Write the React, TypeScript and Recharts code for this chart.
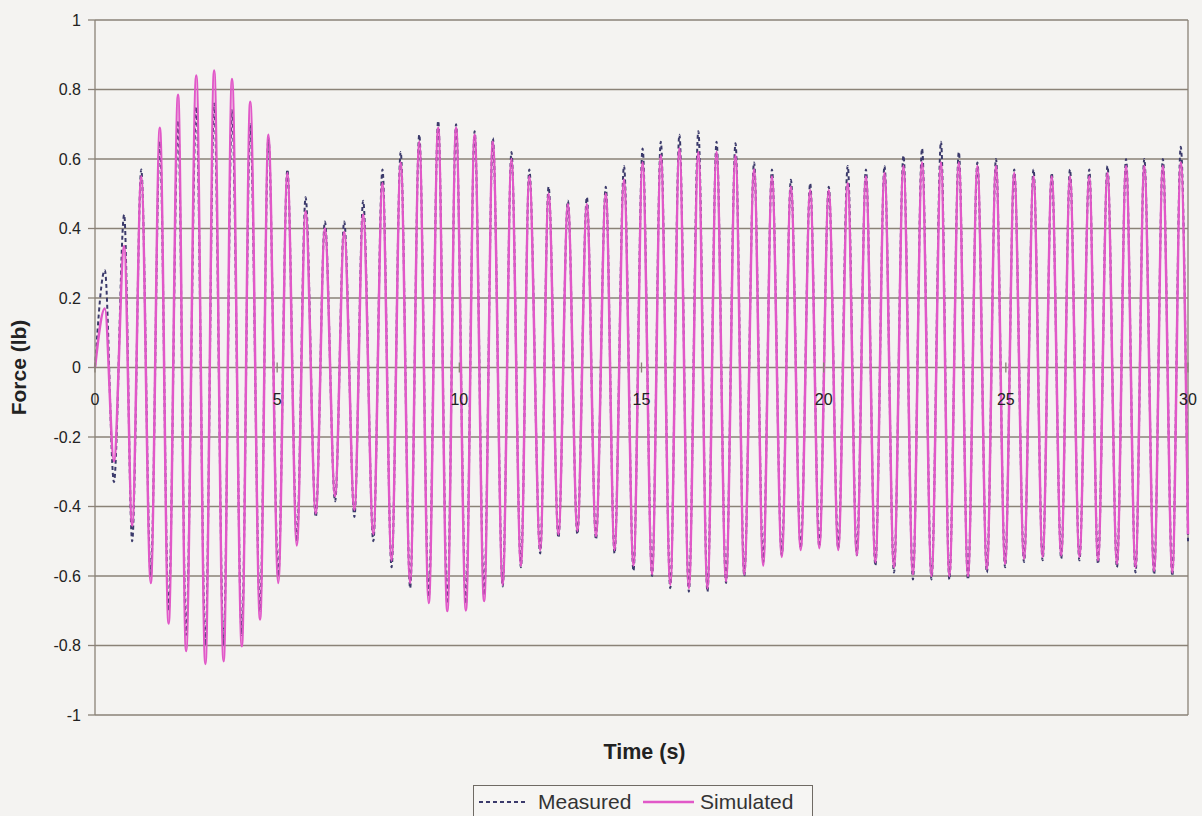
import React from "react";
import {
  LineChart,
  Line,
  XAxis,
  YAxis,
  CartesianGrid,
  ReferenceLine,
  Label,
} from "recharts";

// Force response: measured vs simulated, values read at each peak / trough

const peakTimes = [
  0.27, 0.8, 1.27, 1.78, 2.28, 2.78, 3.27, 3.76, 4.26, 4.76, 5.28, 5.78, 6.31,
  6.84, 7.36, 7.89, 8.39, 8.9, 9.42, 9.91, 10.42, 10.92, 11.43, 11.92, 12.45,
  12.98, 13.5, 14.02, 14.52, 15.03, 15.53, 16.04, 16.56, 17.06, 17.58, 18.09,
  18.58, 19.1, 19.63, 20.14, 20.66, 21.16, 21.67, 22.19, 22.7, 23.22, 23.71,
  24.22, 24.73, 25.23, 25.76, 26.26, 26.76, 27.29, 27.79, 28.3, 28.8, 29.31,
  29.8,
];

const troughTimes = [
  0.52, 1.02, 1.53, 2.02, 2.5, 3.03, 3.53, 4.03, 4.53, 5.03, 5.54, 6.06, 6.59,
  7.12, 7.64, 8.14, 8.65, 9.16, 9.67, 10.18, 10.68, 11.19, 11.69, 12.22, 12.72,
  13.24, 13.75, 14.26, 14.78, 15.29, 15.79, 16.3, 16.81, 17.32, 17.82, 18.34,
  18.85, 19.37, 19.88, 20.4, 20.91, 21.42, 21.93, 22.45, 22.96, 23.45, 23.96,
  24.48, 24.98, 25.5, 26.01, 26.52, 27.02, 27.53, 28.05, 28.56, 29.07, 29.57,
];

const measuredPeaks = [
  0.28, 0.44, 0.57, 0.65, 0.71, 0.75, 0.76, 0.74, 0.7, 0.66, 0.57, 0.49, 0.42,
  0.42, 0.48, 0.57, 0.62, 0.67, 0.71, 0.7, 0.68, 0.66, 0.62, 0.57, 0.52, 0.48,
  0.49, 0.52, 0.58, 0.63, 0.65, 0.67, 0.68, 0.65, 0.645, 0.59, 0.57, 0.54, 0.53,
  0.52, 0.58, 0.57, 0.58, 0.61, 0.63, 0.65, 0.62, 0.59, 0.6, 0.57, 0.57, 0.56,
  0.57, 0.57, 0.58, 0.6, 0.6, 0.6, 0.635,
];

const measuredTroughs = [
  -0.33, -0.5, -0.6, -0.7, -0.77, -0.8, -0.8, -0.77, -0.7, -0.6, -0.5, -0.43,
  -0.385, -0.43, -0.5, -0.575, -0.635, -0.66, -0.68, -0.68, -0.655, -0.63,
  -0.575, -0.535, -0.49, -0.48, -0.495, -0.535, -0.585, -0.6, -0.635, -0.645,
  -0.645, -0.62, -0.6, -0.56, -0.54, -0.52, -0.515, -0.52, -0.54, -0.57, -0.59,
  -0.61, -0.61, -0.61, -0.61, -0.59, -0.575, -0.56, -0.555, -0.55, -0.555,
  -0.565, -0.575, -0.59, -0.595, -0.6,
];

const simulatedPeaks = [
  0.17, 0.35, 0.55, 0.69, 0.785, 0.84, 0.855, 0.83, 0.765, 0.67, 0.56, 0.45,
  0.4, 0.39, 0.44, 0.53, 0.59, 0.65, 0.69, 0.69, 0.67, 0.65, 0.6, 0.55, 0.5,
  0.47, 0.47, 0.5, 0.54, 0.59, 0.61, 0.63, 0.62, 0.62, 0.61, 0.57, 0.55, 0.52,
  0.51, 0.51, 0.53, 0.55, 0.56, 0.58, 0.59, 0.59, 0.59, 0.58, 0.58, 0.56, 0.55,
  0.55, 0.55, 0.55, 0.56, 0.58, 0.58, 0.58, 0.59,
];

const simulatedTroughs = [
  -0.27, -0.455, -0.62, -0.737, -0.816, -0.853, -0.845, -0.802, -0.725, -0.62,
  -0.512, -0.42, -0.37, -0.41, -0.48, -0.555, -0.62, -0.678, -0.701, -0.699,
  -0.672, -0.625, -0.57, -0.525, -0.48, -0.47, -0.485, -0.525, -0.57, -0.595,
  -0.625, -0.635, -0.635, -0.615, -0.595, -0.57, -0.545, -0.525, -0.52, -0.525,
  -0.54, -0.56, -0.575, -0.595, -0.6, -0.6, -0.6, -0.58, -0.565, -0.55, -0.545,
  -0.54, -0.545, -0.555, -0.565, -0.575, -0.585, -0.59,
];

const startPoint = { t: 0, measured: 0, simulated: 0 };
const endPoint = { t: 30, measured: -0.5, simulated: -0.48 };

const xTicks = [0, 5, 10, 15, 20, 25, 30];
const yTicks = [1, 0.8, 0.6, 0.4, 0.2, 0, -0.2, -0.4, -0.6, -0.8, -1];

// interleave peaks and troughs into one table for the chart
const data: { t: number; measured: number; simulated: number }[] = [startPoint];
peakTimes.forEach((t, i) => {
  data.push({ t, measured: measuredPeaks[i], simulated: simulatedPeaks[i] });
  if (i < troughTimes.length) {
    data.push({
      t: troughTimes[i],
      measured: measuredTroughs[i],
      simulated: simulatedTroughs[i],
    });
  }
});
data.push(endPoint);

const W = 1202;
const H = 816;
const PLOT_TOP = 20;
const PLOT_H = 695;
const GRID = "#8a8277";
const MEASURED = "#3b3a6b";
const SIMULATED = "#e158c8";
const FONT = "Arial, 'Liberation Sans', Helvetica, sans-serif";

// x labels sit under the zero line, like Excel's axis crossing at 0
const XTick = (props: any) => {
  const { x, y, payload } = props;
  const zeroY = y - PLOT_H / 2;
  return (
    <g>
      <line x1={x} x2={x} y1={zeroY - 5} y2={zeroY + 5} stroke={GRID} strokeWidth={1.3} />
      <text
        x={x}
        y={zeroY + 37}
        textAnchor="middle"
        fontSize={16}
        fontFamily={FONT}
        fill="#222"
      >
        {payload.value}
      </text>
    </g>
  );
};

export default function App() {
  return (
    <div
      style={{
        position: "absolute",
        left: 0,
        top: 0,
        width: W,
        height: H,
        overflow: "hidden",
        background: "#f4f3f1",
        fontFamily: FONT,
      }}
    >
      <LineChart
        width={W}
        height={H}
        data={data}
        margin={{ top: PLOT_TOP, right: 14, bottom: 0, left: 0 }}
      >
        <CartesianGrid vertical={false} stroke={GRID} strokeWidth={1.3} />
        <XAxis
          dataKey="t"
          type="number"
          domain={[0, 30]}
          ticks={xTicks}
          height={101}
          axisLine={false}
          tickLine={false}
          tickSize={0}
          tickMargin={0}
          tick={<XTick />}
          interval={0}
        >
          <Label
            content={(p: any) => (
              <text
                x={p.viewBox.x + p.viewBox.width / 2 + 3}
                y={p.viewBox.y + 44}
                textAnchor="middle"
                fontSize={21.5}
                fontWeight="bold"
                fontFamily={FONT}
                fill="#222"
              >
                Time (s)
              </text>
            )}
          />
        </XAxis>
        <YAxis
          type="number"
          domain={[-1, 1]}
          ticks={yTicks}
          width={95}
          interval={0}
          axisLine={{ stroke: GRID, strokeWidth: 1.3 }}
          tickLine={{ stroke: GRID, strokeWidth: 1.3 }}
          tickSize={7}
          tickMargin={7}
          tick={{ fontSize: 16, fill: "#222", fontFamily: FONT }}
        >
          <Label
            content={(p: any) => {
              const cx = 18;
              const cy = p.viewBox.y + p.viewBox.height / 2;
              return (
                <text
                  x={cx}
                  y={cy}
                  transform={`rotate(-90, ${cx}, ${cy})`}
                  textAnchor="middle"
                  dominantBaseline="central"
                  fontSize={21}
                  fontWeight="bold"
                  fontFamily={FONT}
                  fill="#222"
                >
                  Force (lb)
                </text>
              );
            }}
          />
        </YAxis>
        <ReferenceLine x={30} stroke={GRID} strokeWidth={1.3} />
        <Line
          type="monotone"
          dataKey="measured"
          stroke={MEASURED}
          strokeWidth={2}
          strokeDasharray="4 3"
          dot={false}
          isAnimationActive={false}
        />
        <Line
          type="monotone"
          dataKey="simulated"
          stroke={SIMULATED}
          strokeWidth={2.5}
          dot={false}
          isAnimationActive={false}
        />
      </LineChart>

      <div
        style={{
          position: "absolute",
          left: 473,
          top: 785,
          width: 340,
          height: 40,
          boxSizing: "border-box",
          border: "1.5px solid #6f6a64",
          background: "#f6f5f3",
          fontSize: 21,
          color: "#333",
        }}
      >
        <svg width={52} height={20} style={{ position: "absolute", left: 4, top: 6 }}>
          <line x1={1} x2={50} y1={10} y2={10} stroke={MEASURED} strokeWidth={2} strokeDasharray="4 3" />
        </svg>
        <span style={{ position: "absolute", left: 64, top: 3, lineHeight: "26px" }}>Measured</span>
        <svg width={54} height={20} style={{ position: "absolute", left: 168, top: 6 }}>
          <line x1={1} x2={52} y1={10} y2={10} stroke={SIMULATED} strokeWidth={2.5} />
        </svg>
        <span style={{ position: "absolute", left: 226, top: 3, lineHeight: "26px" }}>Simulated</span>
      </div>
    </div>
  );
}
